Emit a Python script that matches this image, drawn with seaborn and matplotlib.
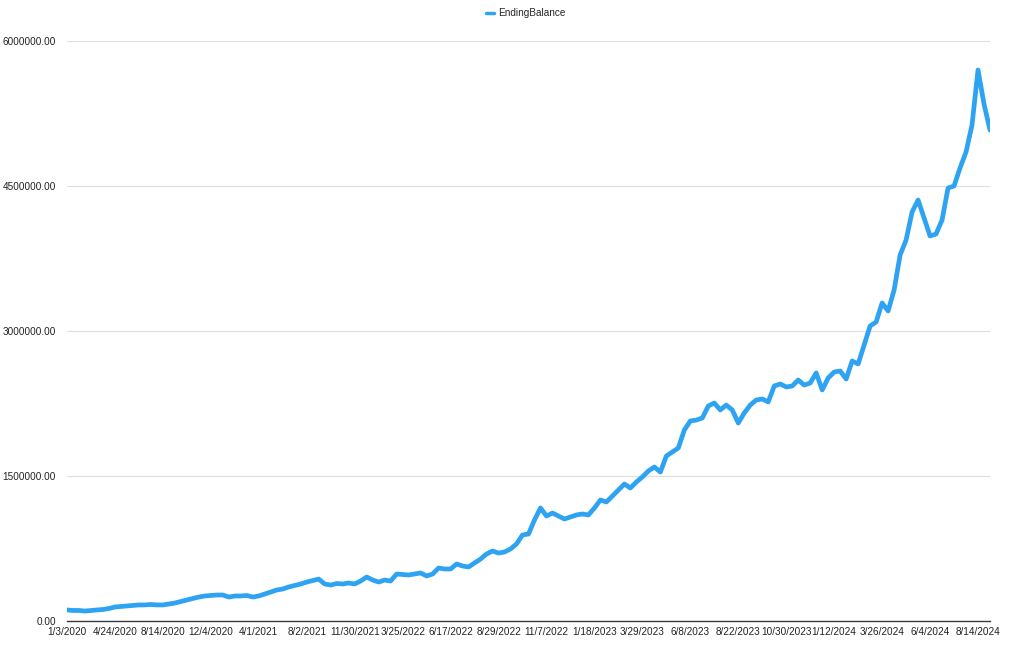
import matplotlib
matplotlib.use("Agg")
import matplotlib.pyplot as plt
import seaborn as sns
import pandas as pd
from matplotlib.ticker import FormatStrFormatter

# ending balance (dollars), one value per row
ending_balance = [
    114000, 109000, 109000, 103000, 109000, 114000, 119000, 129000,
    145000, 150000, 155000, 160000, 166000, 166000, 171000, 166000,
    166000, 176000, 186000, 202000, 217000, 233000, 248000, 259000,
    264000, 269000, 269000, 248000, 259000, 259000, 264000, 248000,
    259000, 279000, 300000, 321000, 331000, 352000, 367000, 383000,
    403000, 419000, 434000, 383000, 372000, 388000, 383000, 393000,
    383000, 414000, 455000, 424000, 403000, 424000, 414000, 486000,
    481000, 476000, 486000, 497000, 466000, 486000, 548000, 538000,
    538000, 590000, 569000, 559000, 600000, 641000, 693000, 724000,
    703000, 714000, 745000, 797000, 890000, 900000, 1045000, 1169000,
    1086000, 1117000, 1086000, 1055000, 1076000, 1097000, 1107000, 1097000,
    1169000, 1252000, 1231000, 1293000, 1355000, 1417000, 1376000, 1438000,
    1490000, 1552000, 1593000, 1541000, 1707000, 1748000, 1790000, 1976000,
    2069000, 2079000, 2100000, 2224000, 2255000, 2183000, 2234000, 2183000,
    2048000, 2152000, 2234000, 2286000, 2297000, 2266000, 2431000, 2452000,
    2421000, 2431000, 2493000, 2441000, 2462000, 2566000, 2390000, 2514000,
    2576000, 2586000, 2503000, 2690000, 2659000, 2855000, 3052000, 3093000,
    3290000, 3207000, 3424000, 3786000, 3941000, 4231000, 4355000, 4169000,
    3983000, 4003000, 4148000, 4479000, 4500000, 4686000, 4852000, 5131000,
    5700000, 5348000, 5079000,
]

# date labels shown under the axis (every 8th row)
date_labels = [
    "1/3/2020", "4/24/2020", "8/14/2020", "12/4/2020", "4/1/2021",
    "8/2/2021", "11/30/2021", "3/25/2022", "6/17/2022", "8/29/2022",
    "11/7/2022", "1/18/2023", "3/29/2023", "6/8/2023", "8/22/2023",
    "10/30/2023", "1/12/2024", "3/26/2024", "6/4/2024", "8/14/2024",
]
label_step = 8
y_ticks = [0, 1500000, 3000000, 4500000, 6000000]

df = pd.DataFrame({"row": range(len(ending_balance)),
                   "EndingBalance": ending_balance})

sns.set_style("white")
plt.rcParams["font.family"] = ["Liberation Sans", "DejaVu Sans"]

fig = plt.figure(figsize=(10.24, 6.53), dpi=100)
ax = fig.add_axes([67 / 1024, 32 / 653, 923 / 1024, 580 / 653])

sns.lineplot(data=df, x="row", y="EndingBalance", ax=ax, color="#2ea3f2",
             linewidth=3.4, label="EndingBalance", solid_joinstyle="round")

ax.set_xlim(0, len(ending_balance) - 1)
ax.set_ylim(0, 6000000)
ax.set_xticks([i * label_step for i in range(len(date_labels))])
ax.set_xticklabels(date_labels)
ax.set_yticks(y_ticks)
ax.yaxis.set_major_formatter(FormatStrFormatter("%.2f"))
ax.tick_params(axis="both", length=0, labelsize=7.2, colors="#222222")
ax.tick_params(axis="y", pad=8)
ax.tick_params(axis="x", pad=4)
ax.set_xlabel("")
ax.set_ylabel("")

ax.grid(axis="y", color="#dedede", linewidth=0.8)
ax.set_axisbelow(True)
for s in ["top", "right", "left"]:
    ax.spines[s].set_visible(False)
ax.spines["bottom"].set_color("#3a3a3a")
ax.spines["bottom"].set_linewidth(1.0)

leg = ax.legend(loc="upper center", bbox_to_anchor=(0.497, 1.072), frameon=False,
                fontsize=7.2, handlelength=0.8, handletextpad=0.5)
for line in leg.get_lines():
    line.set_linewidth(2.5)

fig.savefig("out.png", dpi=100)
